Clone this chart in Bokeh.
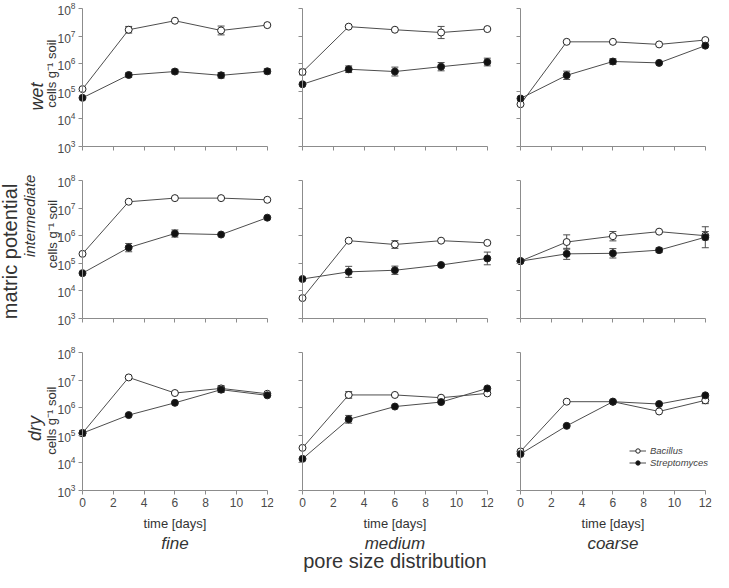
import math
from bokeh.plotting import figure
from bokeh.models import (Range1d, FixedTicker, Label, Legend, LegendItem,
                          ColumnDataSource, CustomJSTickFormatter)
from bokeh.layouts import column, row
from bokeh.embed import file_html
from bokeh.resources import INLINE

# ---------------- data ----------------
days = [0, 3, 6, 9, 12]
x_ticks = [0, 2, 4, 6, 8, 10, 12]
y_ticks = [1e3, 1e4, 1e5, 1e6, 1e7, 1e8]
moisture = ["wet", "intermediate", "dry"]
pores = ["fine", "medium", "coarse"]
species = ["Bacillus", "Streptomyces"]

# cells g-1 soil ; *_err = half error bar in log10 units (0 = none visible)
fine_wet_bacillus = [1.2e5, 1.7e7, 3.6e7, 1.6e7, 2.5e7]
fine_wet_bacillus_err = [0, 0.12, 0, 0.16, 0]
fine_wet_strepto = [5.8e4, 3.9e5, 5.2e5, 3.8e5, 5.3e5]
fine_wet_strepto_err = [0, 0.08, 0.08, 0.1, 0.09]

medium_wet_bacillus = [5.0e5, 2.2e7, 1.7e7, 1.35e7, 1.8e7]
medium_wet_bacillus_err = [0.1, 0, 0, 0.22, 0]
medium_wet_strepto = [1.8e5, 6.3e5, 5.2e5, 7.8e5, 1.15e6]
medium_wet_strepto_err = [0, 0.12, 0.16, 0.15, 0.14]

coarse_wet_bacillus = [3.4e4, 6.2e6, 6.2e6, 5.0e6, 7.2e6]
coarse_wet_bacillus_err = [0, 0, 0, 0, 0]
coarse_wet_strepto = [5.5e4, 3.8e5, 1.2e6, 1.07e6, 4.5e6]
coarse_wet_strepto_err = [0, 0.15, 0.1, 0, 0]

fine_int_bacillus = [2.2e5, 1.7e7, 2.3e7, 2.3e7, 2.0e7]
fine_int_bacillus_err = [0, 0, 0, 0, 0]
fine_int_strepto = [4.4e4, 3.7e5, 1.2e6, 1.1e6, 4.5e6]
fine_int_strepto_err = [0, 0.15, 0.13, 0, 0]

medium_int_bacillus = [5.5e3, 6.6e5, 4.8e5, 6.6e5, 5.5e5]
medium_int_bacillus_err = [0, 0, 0.14, 0, 0]
medium_int_strepto = [2.7e4, 4.9e4, 5.6e4, 8.7e4, 1.5e5]
medium_int_strepto_err = [0, 0.2, 0.15, 0, 0.23]

coarse_int_bacillus = [1.2e5, 5.9e5, 9.6e5, 1.4e6, 1.0e6]
coarse_int_bacillus_err = [0, 0.26, 0.17, 0, 0.15]
coarse_int_strepto = [1.2e5, 2.2e5, 2.3e5, 3.0e5, 8.8e5]
coarse_int_strepto_err = [0, 0.2, 0.17, 0.08, 0.38]

fine_dry_bacillus = [1.2e5, 1.25e7, 3.4e6, 5.0e6, 3.2e6]
fine_dry_bacillus_err = [0.1, 0, 0, 0.1, 0]
fine_dry_strepto = [1.2e5, 5.4e5, 1.5e6, 4.5e6, 2.8e6]
fine_dry_strepto_err = [0.08, 0, 0, 0.1, 0]

medium_dry_bacillus = [3.5e4, 2.9e6, 2.9e6, 2.3e6, 3.3e6]
medium_dry_bacillus_err = [0, 0.12, 0, 0, 0]
medium_dry_strepto = [1.4e4, 3.8e5, 1.1e6, 1.6e6, 5.0e6]
medium_dry_strepto_err = [0, 0.14, 0, 0, 0]

coarse_dry_bacillus = [2.6e4, 1.65e6, 1.65e6, 7.3e5, 1.85e6]
coarse_dry_bacillus_err = [0, 0, 0, 0, 0.12]
coarse_dry_strepto = [2.1e4, 2.2e5, 1.65e6, 1.36e6, 2.8e6]
coarse_dry_strepto_err = [0, 0, 0, 0, 0]

panels = {
    ("wet", "fine"): (fine_wet_bacillus, fine_wet_bacillus_err, fine_wet_strepto, fine_wet_strepto_err),
    ("wet", "medium"): (medium_wet_bacillus, medium_wet_bacillus_err, medium_wet_strepto, medium_wet_strepto_err),
    ("wet", "coarse"): (coarse_wet_bacillus, coarse_wet_bacillus_err, coarse_wet_strepto, coarse_wet_strepto_err),
    ("intermediate", "fine"): (fine_int_bacillus, fine_int_bacillus_err, fine_int_strepto, fine_int_strepto_err),
    ("intermediate", "medium"): (medium_int_bacillus, medium_int_bacillus_err, medium_int_strepto, medium_int_strepto_err),
    ("intermediate", "coarse"): (coarse_int_bacillus, coarse_int_bacillus_err, coarse_int_strepto, coarse_int_strepto_err),
    ("dry", "fine"): (fine_dry_bacillus, fine_dry_bacillus_err, fine_dry_strepto, fine_dry_strepto_err),
    ("dry", "medium"): (medium_dry_bacillus, medium_dry_bacillus_err, medium_dry_strepto, medium_dry_strepto_err),
    ("dry", "coarse"): (coarse_dry_bacillus, coarse_dry_bacillus_err, coarse_dry_strepto, coarse_dry_strepto_err),
}

# ---------------- style / layout ----------------
FONT = "Liberation Sans"
AXIS_COLOR = "#8c8c8c"
LINE_COLOR = "#4d4d4d"
TEXT_COLOR = "#333333"
TICK_TEXT = "#4a4a4a"
PX_PER_DAY = 15.4
PX_PER_DECADE = 27.6
RIGHT_ROOM_PX = 6.2                 # white space right of day 12 (inside frame)
TOP_ROOM_PX = 8                     # room above 10^8 for its tick label
LEFT_ROOM_PX = [82, 6, 6]           # room left of day 0 (inside frame)
BOTTOM_ROOM_PX = [7, 7, 82]         # room below 10^3 (inside frame)
left_border = [0, 11, 11]
right_border = [12, 10, 2]
bottom_border = [19, 19, 0]
MARK = 7
CAP = 7

# row label specs: (text, log10 y-position, x offset px from day 0, size, style)
CELLS = "cells g\u207b\u00b9 soil"
row_labels = {
    "wet": [("wet", 4.81, -46, "18px", "italic"), (CELLS, 5.64, -31, "13px", "normal")],
    "intermediate": [("matric potential", 5.43, -72.5, "20px", "normal"),
                     ("intermediate", 6.72, -53, "15px", "italic"),
                     (CELLS, 6.06, -30, "13px", "normal")],
    "dry": [("dry", 5.25, -48, "18px", "italic"), (CELLS, 5.53, -31, "13px", "normal")],
}


def txt(p, text, x, y, xo, yo, size, style="normal", angle=0.0, color=TEXT_COLOR):
    p.add_layout(Label(x=x, y=y, x_offset=xo, y_offset=yo, text=text, angle=angle,
                       text_font=FONT, text_font_size=size, text_font_style=style,
                       text_color=color, text_align="center", text_baseline="middle"))


def make_panel(r, c):
    m, pz = moisture[r], pores[c]
    x0 = -LEFT_ROOM_PX[c] / PX_PER_DAY
    x1 = max(days) + RIGHT_ROOM_PX / PX_PER_DAY
    y0 = 10 ** (3 - BOTTOM_ROOM_PX[r] / PX_PER_DECADE)
    y1 = 10 ** (8 + TOP_ROOM_PX / PX_PER_DECADE)
    fw = round((x1 - x0) * PX_PER_DAY)
    fh = round(5 * PX_PER_DECADE + TOP_ROOM_PX + BOTTOM_ROOM_PX[r])
    p = figure(frame_width=fw, frame_height=fh,
               x_range=Range1d(x0, x1), y_range=Range1d(y0, y1),
               y_axis_type="log", output_backend="svg", toolbar_location=None,
               min_border_left=left_border[c], min_border_right=right_border[c],
               min_border_top=0, min_border_bottom=bottom_border[r],
               background_fill_color="white", border_fill_color="white")
    p.grid.visible = False
    p.outline_line_color = None
    for ax in (p.xaxis[0], p.yaxis[0]):
        ax.axis_line_color = AXIS_COLOR
        ax.major_tick_line_color = AXIS_COLOR
        ax.minor_tick_line_color = None
        ax.major_tick_in = 0
        ax.major_tick_out = 4
        ax.major_label_text_font = FONT
        ax.major_label_text_font_size = "12px"
        ax.major_label_text_color = TICK_TEXT
        ax.major_label_standoff = 3
    p.xaxis.ticker = FixedTicker(ticks=x_ticks)
    p.yaxis.ticker = FixedTicker(ticks=y_ticks)
    p.xaxis.bounds = (0, 12)
    p.yaxis.bounds = (1e3, 1e8)
    p.yaxis.fixed_location = 0
    p.xaxis.fixed_location = 1e3
    if r < 2:
        p.xaxis.formatter = CustomJSTickFormatter(code="return ''")
    else:
        p.xaxis.axis_label = "time [days]"
        p.xaxis.axis_label_text_font = FONT
        p.xaxis.axis_label_text_font_size = "13px"
        p.xaxis.axis_label_text_font_style = "normal"
        p.xaxis.axis_label_text_color = TEXT_COLOR
        p.xaxis.axis_label_standoff = 6
    if c > 0:
        p.yaxis.formatter = CustomJSTickFormatter(code="return ''")

    bac, bac_err, stp, stp_err = panels[(m, pz)]
    rends = []
    for vals, errs, fill in ((bac, bac_err, "white"), (stp, stp_err, "#111111")):
        src = ColumnDataSource(dict(x=days, y=vals))
        lr = p.line("x", "y", source=src, line_color=LINE_COLOR, line_width=1)
        ex = [d for d, e in zip(days, errs) if e > 0]
        lo = [v * 10 ** (-e) for v, e in zip(vals, errs) if e > 0]
        hi = [v * 10 ** e for v, e in zip(vals, errs) if e > 0]
        if ex:
            esrc = ColumnDataSource(dict(x=ex, lo=lo, hi=hi))
            p.segment(x0="x", y0="lo", x1="x", y1="hi", source=esrc, line_color=LINE_COLOR, line_width=1)
            p.scatter("x", "lo", source=esrc, marker="dash", size=CAP, line_color=LINE_COLOR, line_width=1)
            p.scatter("x", "hi", source=esrc, marker="dash", size=CAP, line_color=LINE_COLOR, line_width=1)
        mr = p.scatter("x", "y", source=src, marker="circle", size=MARK,
                       fill_color=fill, line_color="#222222", line_width=1)
        rends.append((lr, mr))

    if c == 0:
        for text, ly, xo, size, style in row_labels[m]:
            txt(p, text, 0, 10 ** ly, xo, 0, size, style, angle=math.pi / 2)
    if r == 2:
        txt(p, pz, 6, 1e3, 0, -52.5, "17px", "italic")
        if c == 1:
            txt(p, "pore size distribution", 6, 1e3, 0, -70, "20px", "normal")
        if c == 2:
            items = [LegendItem(label=species[i], renderers=list(rends[i])) for i in range(2)]
            lg = Legend(items=items, location=(115, 104), padding=0, margin=0, spacing=1,
                        glyph_width=17, glyph_height=11, label_height=11, label_standoff=4,
                        label_text_font=FONT, label_text_font_size="9.5px",
                        label_text_font_style="italic", label_text_color="#444444",
                        border_line_color=None, background_fill_alpha=0)
            p.add_layout(lg)
    return p


rows = [row(*[make_panel(r, c) for c in range(3)]) for r in range(3)]
layout = column(*rows)

open("out.html", "w").write(file_html(layout, INLINE))
